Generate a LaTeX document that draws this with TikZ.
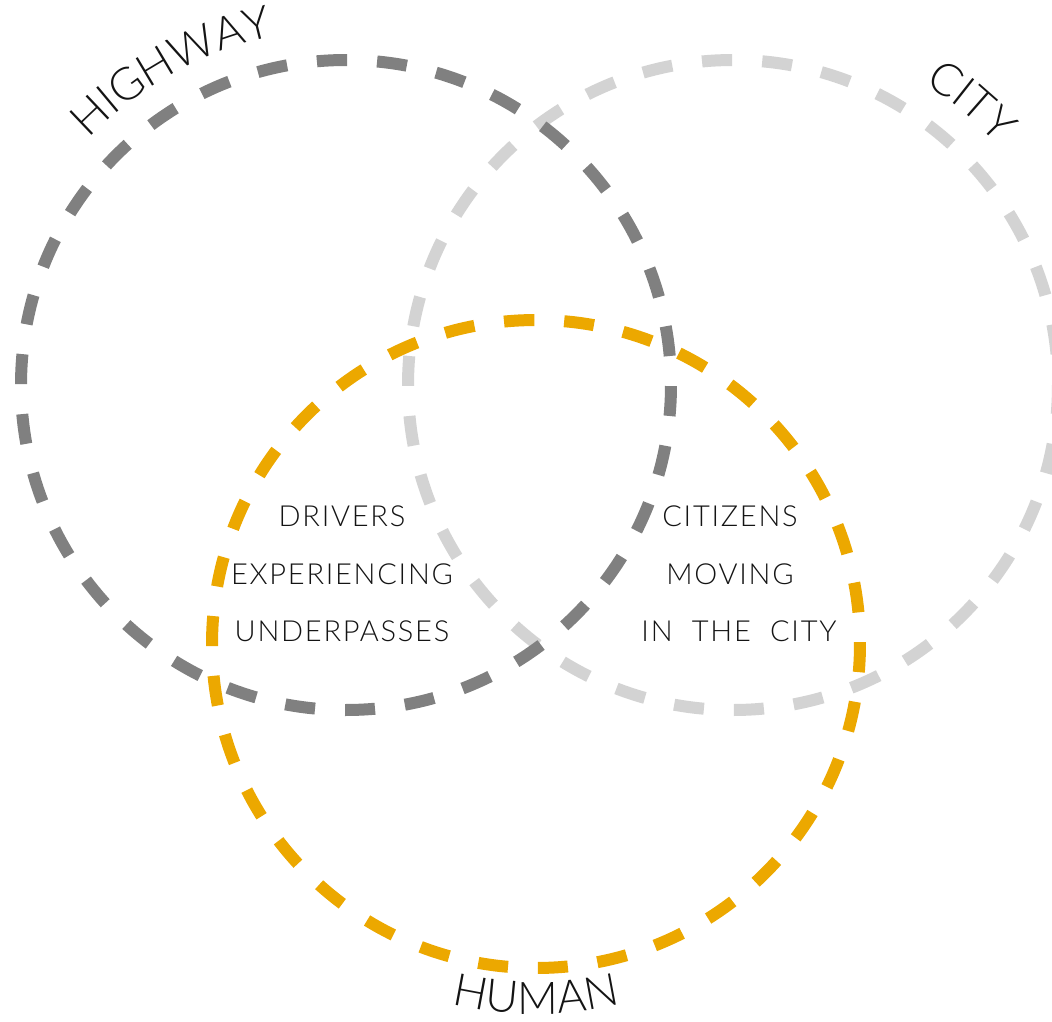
\documentclass[tikz,border=0pt]{standalone}
\usepackage{fontspec}
\setmainfont{Lato}[UprightFont=* Light]
\usetikzlibrary{decorations.text}
\definecolor{hwcol}{RGB}{128,128,128}
\definecolor{citycol}{RGB}{211,211,211}
\definecolor{humcol}{RGB}{236,168,0}
\definecolor{ink}{RGB}{20,20,20}
\newcommand\lblbig{\fontsize{45}{45}\selectfont\addfontfeature{LetterSpace=3}}
\newcommand\lblin{\fontsize{29}{29}\selectfont\addfontfeature{LetterSpace=6}}
\begin{document}
\begin{tikzpicture}[x=1pt,y=1pt,
  ring/.style={line width=12pt, dash pattern=on 30pt off 30.06pt},
  ringh/.style={line width=12pt, dash pattern=on 30pt off 29.87pt},
  lbl/.style={font=\lblin, text=ink, inner sep=0pt, anchor=base},
]
\useasboundingbox (0,0) rectangle (1052,-1021);
\coordinate (hw) at (346,-385);
\coordinate (ct) at (733,-385);
\coordinate (hu) at (536,-644);
% circles
\draw[ring, citycol] ([shift={(90.18:325)}]ct) arc[start angle=90.18, delta angle=360, radius=325];
\draw[ringh, humcol] ([shift={(90.36:324)}]hu) arc[start angle=90.36, delta angle=360, radius=324];
\draw[ring, hwcol] ([shift={(89.85:325)}]hw) arc[start angle=89.85, delta angle=360, radius=325];
% curved labels
\path[decorate, decoration={text along path, text={|\color{ink}\lblbig|HIGHWAY}, text align=center}]
  ([shift={(150:356)}]hw) arc[start angle=150, end angle=88, radius=356];
\path[decorate, decoration={text along path, text={|\color{ink}\lblbig|CITY}, text align=center}]
  ([shift={(76:357)}]ct) arc[start angle=76, end angle=24, radius=357];
\path[decorate, decoration={text along path, text={|\color{ink}\lblbig|HUMAN}, text align=center}]
  ([shift={(235:370)}]hu) arc[start angle=235, end angle=305, radius=370];
% inner texts
\node[lbl] (d1) at (342,-526) {DRIVERS};
\node[lbl] (d2) at (342,-584) {EXPERIENCING};
\node[lbl] (d3) at (342,-641) {UNDERPASSES};
\node[lbl] (c1) at (730,-526) {CITIZENS};
\node[lbl] (c2) at (730,-584) {MOVING};
\node[lbl] (c3) at (739,-641) {IN\ \ THE\ \ CITY};
\end{tikzpicture}
\end{document}
